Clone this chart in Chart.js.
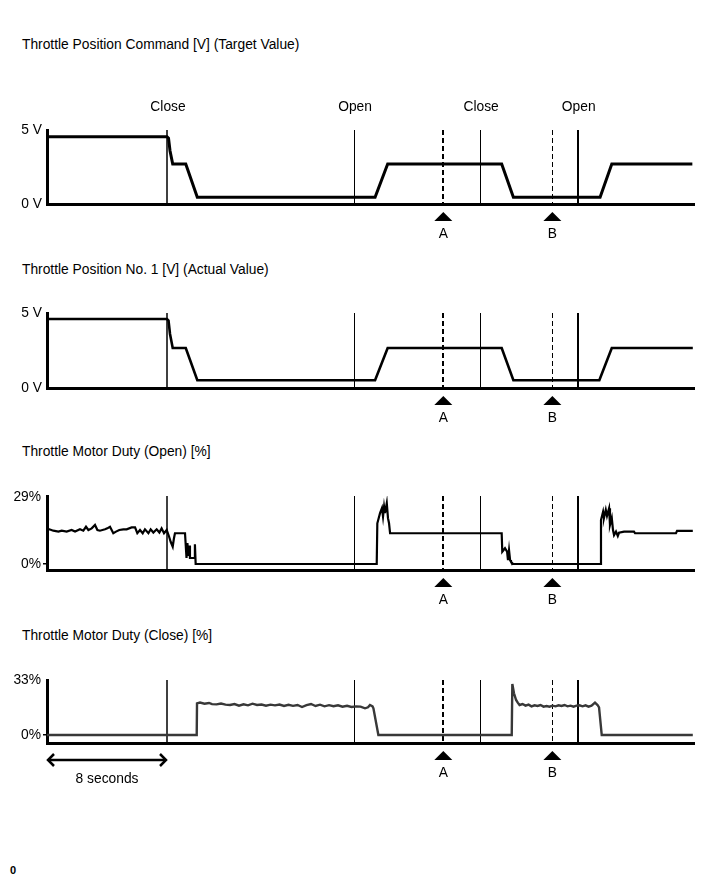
<!DOCTYPE html>
<html>
<head>
<meta charset="utf-8">
<script src="https://cdn.jsdelivr.net/npm/chart.js@4.4.1/dist/chart.umd.min.js"></script>
<style>
  html,body{margin:0;padding:0;background:#fff;}
  body{width:712px;height:882px;position:relative;overflow:hidden;font-family:"Liberation Sans",Arial,Helvetica,sans-serif;color:#000;}
  .title{position:absolute;left:22px;font-size:13.8px;line-height:16px;white-space:nowrap;color:#000;}
  .foot{position:absolute;left:10px;font-size:11px;line-height:12px;font-weight:bold;color:#000;}
  canvas{position:absolute;left:0;}
</style>
</head>
<body>
<div class="title" id="t1" style="top:37px"></div>
<div class="title" id="t2" style="top:262px"></div>
<div class="title" id="t3" style="top:444px"></div>
<div class="title" id="t4" style="top:628px"></div>
<canvas id="c1" width="712" height="170" style="top:80px"></canvas>
<canvas id="c2" width="712" height="150" style="top:280px"></canvas>
<canvas id="c3" width="712" height="140" style="top:470px"></canvas>
<canvas id="c4" width="712" height="145" style="top:655px"></canvas>
<div class="foot" style="top:864px">0</div>
<script>
// ---------------- DATA ----------------
const titles = [
  'Throttle Position Command [V] (Target Value)',
  'Throttle Position No. 1 [V] (Actual Value)',
  'Throttle Motor Duty (Open) [%]',
  'Throttle Motor Duty (Close) [%]'
];
// time in seconds
const tgtT = [0, 8.0, 8.1, 8.2, 8.38, 9.25, 10.02, 21.87, 22.71, 30.31, 31.09, 36.87, 37.65, 43.02];
const tgtV = [4.55, 4.55, 4.45, 3.6, 2.7, 2.7, 0.45, 0.45, 2.7, 2.7, 0.45, 0.45, 2.7, 2.7];

const actT = [0, 8.0, 8.1, 8.2, 8.38, 9.25, 10.02, 21.87, 22.71, 30.31, 31.09, 36.82, 37.65, 43.05];
const actV = [4.6, 4.6, 4.5, 3.6, 2.67, 2.67, 0.52, 0.52, 2.67, 2.67, 0.52, 0.52, 2.67, 2.67];

const openT = [0, 0.16, 0.42, 0.76, 0.98, 1.31, 1.64, 1.87, 2.2, 2.42, 2.6, 2.76, 2.98, 3.2, 3.36, 3.53, 3.87, 4.02, 4.2, 4.42,
  4.6, 4.82, 5.09, 5.31, 5.64, 5.87, 6.02, 6.2, 6.38, 6.53, 6.76, 6.91, 7.09, 7.31, 7.49, 7.64, 7.8, 7.98,
  8.13, 8.25, 8.38, 8.46, 8.53, 9.2, 9.3, 9.36, 9.42, 9.47, 9.53, 9.8, 9.86, 9.91,
  21.98, 22.02, 22.2, 22.33, 22.4, 22.47, 22.53, 22.65, 22.73, 22.8, 22.87, 30.31, 30.35, 30.53, 30.67, 30.73, 30.8, 30.87, 30.93, 31.07,
  36.91, 36.93, 37.07, 37.13, 37.25, 37.33, 37.47, 37.53, 37.65, 37.73, 37.8, 37.93, 38.05, 38.13, 38.47, 39.13, 39.2, 41.93, 42.0, 43.05];
const openV = [15.0, 15.0, 14.4, 14.0, 14.4, 14.0, 14.7, 14.0, 15.0, 14.4, 16.1, 14.7, 15.4, 16.9, 14.7, 14.4, 15.0, 15.4, 16.1, 13.3,
  14.0, 14.7, 15.0, 15.0, 15.8, 15.8, 13.3, 14.7, 13.3, 15.0, 13.3, 15.0, 13.6, 15.0, 13.6, 15.4, 13.3, 14.7,
  12.0, 9.5, 7.5, 11.0, 13.3, 13.3, 2.6, 9.0, 3.5, 8.0, 2.6, 2.6, 8.5, 0,
  0, 17.6, 22.0, 24.2, 20.5, 24.8, 22.0, 26.3, 19.8, 17.6, 13.3, 13.3, 5.3, 6.8, 5.3, 1.7, 6.0, 1.7, 1.0, 0,
  0, 19.0, 22.6, 19.9, 23.4, 20.8, 24.1, 16.9, 19.9, 14.7, 12.5, 14.0, 12.1, 13.5, 14.0, 14.0, 13.3, 13.3, 14.3, 14.3];

const closeT = [0, 9.98, 10.0, 10.2, 10.5, 10.8, 11.0, 11.3, 11.6, 11.9, 12.2, 12.5, 12.8, 13.1, 13.4, 13.7, 14.0, 14.3, 14.6, 14.9,
  15.2, 15.5, 15.8, 16.1, 16.4, 16.7, 17.0, 17.3, 17.6, 17.9, 18.2, 18.5, 18.8, 19.1, 19.4, 19.7, 20.0, 20.3, 20.6, 20.9,
  21.2, 21.4, 21.53, 21.7, 21.76, 22.09, 30.98, 31.02, 31.13, 31.27, 31.38, 31.5, 31.7, 31.9, 32.1, 32.3, 32.5, 32.7, 32.9,
  33.1, 33.3, 33.5, 33.7, 33.9, 34.1, 34.3, 34.5, 34.7, 34.9, 35.1, 35.3, 35.5, 35.7, 35.9, 36.1, 36.3, 36.53, 36.7, 36.8, 36.98, 43.05];
const closeV = [0, 0, 19.0, 19.5, 18.8, 19.2, 18.5, 18.4, 18.9, 18.2, 18.0, 18.6, 17.6, 18.4, 17.8, 18.8, 18.0, 18.3, 17.6, 18.2,
  17.8, 18.3, 17.4, 18.1, 17.5, 18.0, 16.8, 17.9, 18.6, 17.4, 18.2, 17.2, 17.9, 17.3, 17.8, 17.0, 17.5, 16.8, 17.2, 17.0,
  16.0, 16.6, 18.0, 17.2, 16.0, 0, 0, 30.6, 25.0, 21.0, 19.4, 18.0, 18.6, 17.6, 18.2, 17.2, 17.8, 17.4, 18.0,
  17.0, 17.4, 17.0, 17.6, 17.2, 17.8, 17.4, 18.0, 17.2, 17.6, 17.0, 17.6, 17.8, 17.2, 17.8, 17.0, 17.6, 19.4, 18.0, 16.5, 0, 0];

const eventTimes = [8.0, 20.47, 28.87, 35.38];
const eventLabels = ['Close', 'Open', 'Close', 'Open'];
const refTimes = [26.42, 33.69];
const refLabels = ['A', 'B'];
const scaleBarSeconds = 8;
const scaleBarLabel = '8 seconds';

const yTicks = [[0, 5], [0, 5], [0, 29], [0, 33]];
const yTickLabels = [['0 V', '5 V'], ['0 V', '5 V'], ['0%', '29%'], ['0%', '33%']];

// ---------------- STYLE / LAYOUT ----------------
const FAMILY = '"Liberation Sans", Arial, Helvetica, sans-serif';
const FONT = '13.8px ' + FAMILY;
Chart.defaults.font.family = FAMILY;
Chart.defaults.color = '#000';
const X_MIN = 0, X_MAX = 43.13;
const eventWidths = [1.5, 1, 1, 2];
const refWidths = [2, 1];

titles.forEach((t, i) => { document.getElementById('t' + (i + 1)).textContent = t; });

function crisp(px, w) { return (Math.round(w) % 2 === 1) ? Math.round(px) + 0.5 : Math.round(px); }

const markerPlugin = {
  id: 'markers',
  beforeDatasetsDraw(chart, args, opts) {
    const {ctx, chartArea: {top, bottom}, scales: {x}} = chart;
    ctx.save();
    ctx.strokeStyle = '#000';
    eventTimes.forEach((t, i) => {
      const px = crisp(x.getPixelForValue(t), eventWidths[i]);
      ctx.beginPath(); ctx.setLineDash([]); ctx.lineWidth = eventWidths[i];
      ctx.moveTo(px, top); ctx.lineTo(px, bottom); ctx.stroke();
    });
    refTimes.forEach((t, i) => {
      const px = crisp(x.getPixelForValue(t), refWidths[i]);
      ctx.beginPath(); ctx.setLineDash([5, 3]); ctx.lineWidth = refWidths[i];
      ctx.moveTo(px, top); ctx.lineTo(px, bottom); ctx.stroke();
    });
    ctx.restore();
  },
  afterDraw(chart, args, opts) {
    const {ctx, chartArea: {top, bottom}, scales: {x}} = chart;
    ctx.save();
    ctx.fillStyle = '#000'; ctx.strokeStyle = '#000';
    ctx.font = FONT; ctx.textAlign = 'center'; ctx.textBaseline = 'alphabetic';
    if (opts.topLabels) {
      eventTimes.forEach((t, i) => {
        ctx.fillText(eventLabels[i], x.getPixelForValue(t) + 1, top - 19.5);
      });
    }
    refTimes.forEach((t, i) => {
      const px = x.getPixelForValue(t);
      ctx.beginPath();
      ctx.moveTo(px, bottom + 8);
      ctx.lineTo(px + 9, bottom + 17);
      ctx.lineTo(px - 9, bottom + 17);
      ctx.closePath(); ctx.fill();
      ctx.fillText(refLabels[i], px, bottom + 33.5);
    });
    if (opts.scaleBar) {
      const x0 = x.getPixelForValue(0), x1 = x.getPixelForValue(scaleBarSeconds);
      const y = bottom + 17;
      ctx.lineWidth = 2.5; ctx.setLineDash([]); ctx.lineJoin = 'miter';
      ctx.beginPath(); ctx.moveTo(x0 + 1, y); ctx.lineTo(x1 - 1, y); ctx.stroke();
      ctx.beginPath(); ctx.moveTo(x0 + 7, y - 6); ctx.lineTo(x0 + 1, y); ctx.lineTo(x0 + 7, y + 6); ctx.stroke();
      ctx.beginPath(); ctx.moveTo(x1 - 7, y - 6); ctx.lineTo(x1 - 1, y); ctx.lineTo(x1 - 7, y + 6); ctx.stroke();
      ctx.fillText(scaleBarLabel, (x0 + x1) / 2, bottom + 39.5);
    }
    ctx.restore();
  }
};

function makeChart(id, cfg) {
  return new Chart(document.getElementById(id), {
    type: 'line',
    data: {
      datasets: [{
        data: cfg.t.map((t, i) => ({x: t, y: cfg.v[i]})),
        borderColor: cfg.color, borderWidth: cfg.lw,
        pointRadius: 0, tension: 0, fill: false, borderJoinStyle: 'miter'
      }]
    },
    options: {
      responsive: false, animation: false, devicePixelRatio: 1,
      layout: {padding: {top: cfg.padTop, bottom: cfg.padBottom, left: 0, right: 18}},
      plugins: {
        legend: {display: false}, tooltip: {enabled: false}, title: {display: false},
        markers: {topLabels: !!cfg.topLabels, scaleBar: !!cfg.scaleBar}
      },
      scales: {
        x: {
          type: 'linear', min: X_MIN, max: X_MAX,
          ticks: {display: false}, grid: {display: false},
          border: {display: true, color: '#000', width: 3},
          afterFit(s) { s.height = 0; }
        },
        y: {
          type: 'linear', min: cfg.min, max: cfg.max,
          afterBuildTicks(s) { s.ticks = cfg.ticks.map(v => ({value: v})); },
          ticks: {
            callback: (v, i) => cfg.tickLabels[i],
            color: '#000', font: {family: FAMILY, size: 13.8},
            padding: cfg.tickMark ? 2 : 5, autoSkip: false, maxRotation: 0
          },
          grid: {
            display: true, drawOnChartArea: false, drawTicks: cfg.tickMark, tickLength: 4,
            lineWidth: 1.5,
            color: (c) => (c.tick && c.tick.value === 0) ? '#000' : 'rgba(0,0,0,0)'
          },
          border: {display: true, color: '#000', width: 3},
          afterFit(s) { s.width = 47; }
        }
      }
    },
    plugins: [markerPlugin]
  });
}

makeChart('c1', {t: tgtT, v: tgtV, color: '#000', lw: 3, min: 0, max: 5, ticks: yTicks[0], tickLabels: yTickLabels[0],
  padTop: 50, padBottom: 46, tickMark: false, topLabels: true});
makeChart('c2', {t: actT, v: actV, color: '#000', lw: 2.6, min: 0, max: 5, ticks: yTicks[1], tickLabels: yTickLabels[1],
  padTop: 33, padBottom: 42, tickMark: false});
makeChart('c3', {t: openT, v: openV, color: '#000', lw: 2.2, min: -2.6, max: 29.4, ticks: yTicks[2], tickLabels: yTickLabels[2],
  padTop: 26, padBottom: 40, tickMark: true});
makeChart('c4', {t: closeT, v: closeV, color: '#383838', lw: 2.4, min: -4.8, max: 33, ticks: yTicks[3], tickLabels: yTickLabels[3],
  padTop: 25, padBottom: 57, tickMark: true, scaleBar: true});
</script>
</body>
</html>
